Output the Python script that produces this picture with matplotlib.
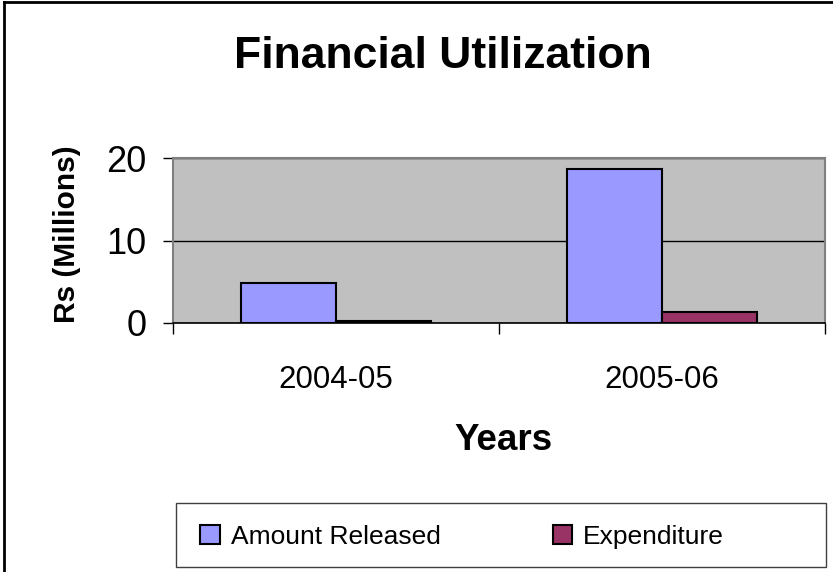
import numpy as np
import matplotlib
matplotlib.use("Agg")
import matplotlib.pyplot as plt
from matplotlib.patches import Rectangle, Patch
from matplotlib.lines import Line2D

plt.rcParams['font.family'] = ['Liberation Sans', 'DejaVu Sans']

years = ["2004-05", "2005-06"]
amount_released = [4.9, 18.7]
expenditure = [0.25, 1.35]
series_names = ["Amount Released", "Expenditure"]
yticks = [0, 10, 20]

fig = plt.figure(figsize=(8.33, 5.72), dpi=100)
ax = fig.add_axes([173/833, 1 - 323/572, (825-173)/833, (323-158)/572])
ax.set_facecolor("#C0C0C0")

x = np.arange(len(years))
width = 0.29
ax.bar(x - width/2, amount_released, width, color="#9999FF", edgecolor="black", linewidth=1.5, zorder=3)
ax.bar(x + width/2, expenditure, width, color="#993366", edgecolor="black", linewidth=1.5, zorder=3)

ax.set_xlim(-0.5, 1.5)
ax.set_ylim(0, 20)
ax.set_yticks(yticks)
ax.set_yticklabels([str(v) for v in yticks], fontsize=26)
ax.yaxis.grid(True, color="black", linewidth=1, zorder=1)
ax.set_axisbelow(True)

ax.set_xticks(x)
ax.set_xticklabels(years, fontsize=22.5)
ax.set_xticks([-0.5, 0.5, 1.5], minor=True)
ax.tick_params(axis="x", which="major", length=0, pad=30)
ax.tick_params(axis="x", which="minor", length=8, width=1, direction="out")
ax.tick_params(axis="y", length=7, width=1, direction="out", pad=12)

for s in ["top", "right", "left"]:
    ax.spines[s].set_color("#808080")
    ax.spines[s].set_linewidth(1.5)
ax.spines["bottom"].set_linewidth(1.2)

fig.text(443/833, 1 - 57/572, "Financial Utilization", fontsize=32, fontweight="bold", ha="center", va="center")
fig.text(503/833, 1 - 441/572, "Years", fontsize=26.5, fontweight="bold", ha="center", va="center")
fig.text(67/833, 1 - 234/572, "Rs (Millions)", fontsize=21.5, fontweight="bold", ha="center", va="center", rotation=90)

# legend frame drawn separately (content is left-shifted inside it)
fig.patches.append(Rectangle((176/833, 1 - 567/572), (826-176)/833, (567-503)/572,
                             transform=fig.transFigure, facecolor="white", edgecolor="#404040", linewidth=1))
handles = [Patch(facecolor="#9999FF", edgecolor="black", linewidth=1.5),
           Patch(facecolor="#993366", edgecolor="black", linewidth=1.5)]
fig.legend(handles, series_names, loc="center left", bbox_to_anchor=(187/833, 1 - 537/572),
           ncol=2, frameon=False, fontsize=19, handlelength=0.75, handleheight=0.75,
           handletextpad=0.4, columnspacing=4.25, borderpad=0)

# outer figure border (only top and left edges visible in the original)
fig.lines.append(Line2D([3.5/833, 3.5/833], [0, 1 - 1.5/572], transform=fig.transFigure, color="black", linewidth=2))
fig.lines.append(Line2D([3.5/833, 1], [1 - 1.5/572, 1 - 1.5/572], transform=fig.transFigure, color="black", linewidth=2))

fig.savefig("out.png", dpi=100)
